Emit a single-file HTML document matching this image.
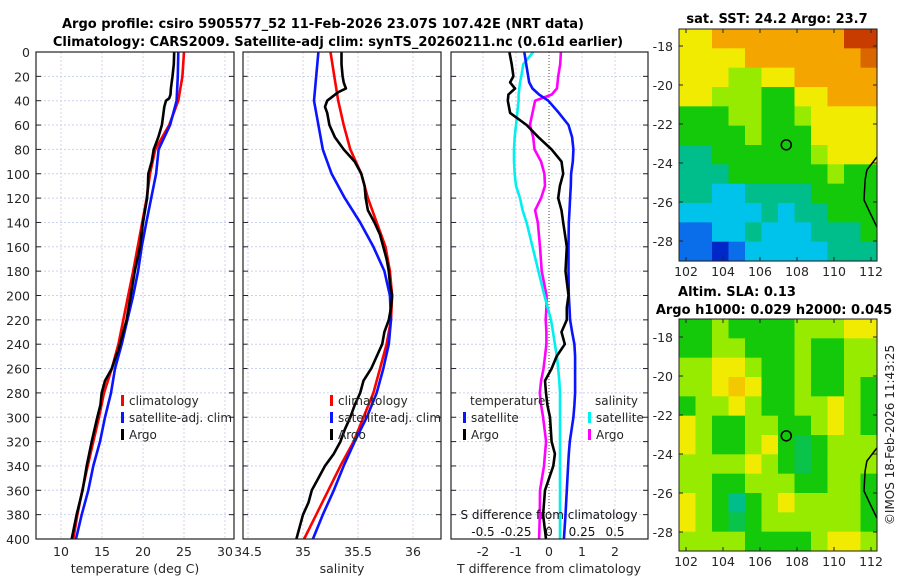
<!DOCTYPE html>
<html><head><meta charset="utf-8"><style>
html,body{margin:0;padding:0;background:#fff;}
svg{display:block;font-family:"DejaVu Sans","Liberation Sans",sans-serif;}
</style></head><body>
<svg id="fig" width="900" height="580" viewBox="0 0 900 580" xmlns="http://www.w3.org/2000/svg">
<text x="323" y="28" text-anchor="middle" font-weight="bold" font-size="13">Argo profile: csiro 5905577_52 11-Feb-2026 23.07S 107.42E (NRT data)</text>
<text x="338" y="46" text-anchor="middle" font-weight="bold" font-size="13">Climatology: CARS2009. Satellite-adj clim: synTS_20260211.nc (0.61d earlier)</text>
<text x="777" y="23" text-anchor="middle" font-weight="bold" font-size="13">sat. SST: 24.2 Argo: 23.7</text>
<text x="737" y="296" text-anchor="middle" font-weight="bold" font-size="13">Altim. SLA: 0.13</text>
<text x="774" y="314" text-anchor="middle" font-weight="bold" font-size="13">Argo h1000: 0.029 h2000: 0.045</text>
<text transform="translate(894,435) rotate(-90)" text-anchor="middle" font-size="12" fill="#222">©IMOS 18-Feb-2026 11:43:25</text>
<g id="g"></g>
</svg>
<script>
// ---------- data ----------
const depthGrid = [0,20,40,60,80,100,120,140,160,180,200,220,240,260,280,300,320,340,360,380,400];
const tempClim = [25.0,24.8,24.3,23.2,21.5,20.85,20.45,19.9,19.35,18.8,18.2,17.6,17.0,16.2,15.24,14.63,13.94,13.25,12.6,12.0,11.5];
const tempSat = [24.3,24.25,24.1,23.3,21.9,21.6,21.0,20.4,19.84,19.4,18.8,18.1,17.4,16.59,16.1,15.37,14.76,13.94,13.33,12.52,11.83];
const argoDepth = [0,10,20,30,35,38,40,45,50,60,70,80,90,100,110,120,140,160,180,200,220,230,240,245,250,260,270,280,290,300,320,340,360,380,400];
const tempArgo = [23.8,23.75,23.6,23.4,23.35,23.2,22.8,22.6,22.5,22.3,21.87,21.3,21.06,20.65,20.6,20.5,20.0,19.63,19.0,18.5,18.0,17.6,17.2,17.0,16.7,16.2,15.37,14.96,14.8,14.43,13.74,13.13,12.64,11.9,11.3];
const salClim = [35.25,35.285,35.32,35.37,35.43,35.53,35.59,35.67,35.75,35.79,35.81,35.80,35.76,35.70,35.64,35.55,35.46,35.34,35.23,35.12,35.01];
const salSat = [35.14,35.12,35.10,35.14,35.18,35.26,35.38,35.52,35.64,35.74,35.79,35.80,35.78,35.73,35.67,35.58,35.47,35.37,35.28,35.18,35.09];
const salArgoDepth = [0,10,20,25,30,33,40,45,50,60,70,80,90,100,110,120,130,140,150,160,170,180,190,200,210,220,230,240,250,260,270,280,290,300,310,320,330,340,350,360,370,380,390,400];
const salArgo = [35.35,35.35,35.36,35.37,35.39,35.32,35.22,35.20,35.22,35.24,35.29,35.37,35.47,35.53,35.56,35.57,35.59,35.65,35.70,35.73,35.76,35.78,35.79,35.81,35.80,35.78,35.74,35.72,35.67,35.62,35.55,35.52,35.47,35.43,35.38,35.34,35.28,35.20,35.14,35.08,35.05,35.00,34.97,34.94];
const diffDepth = [0,10,20,25,30,35,40,50,60,70,80,90,100,110,120,130,140,160,180,200,210,220,230,240,250,260,270,280,290,300,320,330,340,360,380,400];
const tDiffArgo = [-1.2,-1.13,-1.08,-1.18,-1.03,-1.23,-1.25,-1.18,-0.68,-0.32,0.08,0.38,0.43,0.33,0.28,0.38,0.43,0.54,0.5,0.59,0.54,0.54,0.38,0.48,0.23,0.08,-0.12,-0.09,-0.05,0.03,0.08,0.18,0.13,-0.12,-0.18,-0.09];
const tDiffSat = [-0.75,-0.69,-0.63,-0.6,-0.5,-0.3,-0.02,0.3,0.59,0.7,0.74,0.72,0.67,0.66,0.64,0.62,0.6,0.59,0.59,0.6,0.62,0.64,0.7,0.77,0.79,0.79,0.79,0.79,0.77,0.74,0.63,0.6,0.58,0.54,0.5,0.45];
const sDiffSat = [-0.12,-0.195,-0.21,-0.22,-0.225,-0.23,-0.23,-0.24,-0.25,-0.26,-0.265,-0.265,-0.26,-0.25,-0.22,-0.2,-0.17,-0.125,-0.08,-0.035,-0.01,0.015,0.03,0.045,0.06,0.07,0.078,0.083,0.083,0.083,0.083,0.083,0.083,0.083,0.083,0.083];
const sDiffArgo = [0.09,0.085,0.07,0.065,0.06,0.02,-0.105,-0.125,-0.145,-0.12,-0.11,-0.06,-0.035,-0.03,-0.06,-0.105,-0.085,-0.068,-0.055,-0.018,-0.02,-0.025,-0.02,-0.02,-0.03,-0.042,-0.06,-0.07,-0.06,-0.045,-0.022,-0.03,-0.038,-0.068,-0.07,-0.075];
const depthTicks = [0,20,40,60,80,100,120,140,160,180,200,220,240,260,280,300,320,340,360,380,400];
const tempTicks = [10,15,20,25,30];
const salTicks = [34.5,35,35.5,36];
const tDiffTicks = [-2,-1,0,1,2];
const sDiffTicks = [-0.5,-0.25,0,0.25,0.5];
const sDiffTickLabels = ["-0.5","-0.25","0","0.25","0.5"];
const lonTicks = [102,104,106,108,110,112];
const latTicks = [-18,-20,-22,-24,-26,-28];
const sstGrid = [
[6,6,7,7,7,7,7,7,7,7,8,8],
[6,6,6,6,7,7,7,7,7,7,7,7.6],
[6,6,6,5,5,6,6,7,7,7,7,7],
[6,6,5,5,5,4,4,6,6,7,7,7],
[4,4,4,5,5,4,4,5,6,6,6,6],
[4,4,4,4,5,4,4,4,6,6,6,6],
[3,3,4,4,4,4,4,4,5,6,6,6],
[3,3,3,4,4,4,4,4,4,5,4,4],
[3,3,2,2,3,3,3,3,4,4,4,4],
[2,2,2,2,2,3,2,3,3,4,4,4],
[1,1,2,2,3,2,2,2,3,3,3,4],
[1,1,0,1,2,2,2,2,2,3,3,3]];
const slaGrid = [
[4,4,5,4,4,4,4,5,5,5,6,6],
[4,4,5,5,4,4,4,5,4,4,5,5],
[5,5,6,6,5,4,4,5,4,4,5,5],
[5,5,6,6.5,6,4,4,5,4,4,5,4],
[4,5,5,6,5,4,4,5,5,6,5,4],
[6,5,4,4,5,5,4,4,5,6,5,4],
[6,5,4,4,5,6,4,3.5,4,5,5,5],
[5,5,5,5,6,5,4,3.5,4,5,5,5],
[5,5,4,4,5,5,5,4,4,5,5,4],
[6,5,4,3,4,5,6,5,5,5,5,4],
[6,5,4,3.5,4,5,5,5,5,5,5,4],
[5,5,5,5,4,4,4,4,5,6,6,5]];
const coastLon = [112.32,111.78,111.68,111.62,111.95,112.32];
const coastLat = [-23.69,-24.36,-24.87,-25.9,-26.56,-27.28];
const argoLon = 107.42, argoLat = -23.07;

// ---------- helpers ----------
const NS="http://www.w3.org/2000/svg";
const G=document.getElementById('g');
function mk(tag,attrs,parent){const e=document.createElementNS(NS,tag);for(const k in attrs)e.setAttribute(k,attrs[k]);(parent||G).appendChild(e);return e;}
const py=d=>52+d*1.2175;
const pxT=t=>61+(t-10)*8.2;
const pxS=s=>248+(s-34.5)*110;
const pxD=t=>549+t*33;
const pxSD=s=>549+s*132;
const mlon1=(lon)=>686+(lon-102)*18.5;
const mlat=(lat,y18)=>y18+(-18-lat)*19.5;

function frame(name,x0,x1,gridXs,showY){
  for(const d of depthTicks){
    const l=mk('line',{x1:x0,x2:x1,y1:py(d),y2:py(d),stroke:'#c9d2ef','stroke-width':1,'stroke-dasharray':'2,2'});
    
    
    const t1=mk('line',{x1:x0,x2:x0+5,y1:py(d),y2:py(d),stroke:'#222'});
    
    
    const t2=mk('line',{x1:x1-5,x2:x1,y1:py(d),y2:py(d),stroke:'#222'});
    
    
    if(showY){const tx=mk('text',{x:x0-6,y:py(d)+5,'text-anchor':'end','font-size':12.5,fill:'#262626'});tx.textContent=d;
      
      }
  }
  for(const gx of gridXs){
    const l=mk('line',{x1:gx,x2:gx,y1:52,y2:539,stroke:'#d9cfe6','stroke-width':1,'stroke-dasharray':'2,2'});
    
    
  }
}
function border(name,x0,x1){
  const r=mk('rect',{x:x0,y:52,width:x1-x0,height:487,fill:'none',stroke:'#222','stroke-width':1.2});
  
  
}
function line(name,xs,ds,fx,color,w){
  const pts=xs.map((v,i)=>fx(v).toFixed(1)+','+py(ds[i]).toFixed(1)).join(' ');
  const p=mk('polyline',{points:pts,fill:'none',stroke:color,'stroke-width':w||2.6,'stroke-linejoin':'round'});
  
  
}
function txt(name,s,x,y,anchor,size,color){
  const t=mk('text',{x:x,y:y,'text-anchor':anchor||'start','font-size':size||12,fill:color||'#262626'});t.textContent=s;
  
  
  return t;
}
function legMark(name,x,y,color){
  const r=mk('rect',{x:x,y:y-10,width:3,height:11,fill:color});
  
  
}

// ---------- panel 1 temperature ----------
frame('temp-panel',36,234,tempTicks.map(pxT),true);
line('temp-climatology-line',tempClim,depthGrid,pxT,'#ff0000');
line('temp-satellite-line',tempSat,depthGrid,pxT,'#0a14ff');
line('temp-argo-line',tempArgo,argoDepth,pxT,'#000');
border('temp-panel',36,234);
tempTicks.forEach(t=>txt('temp-tick-label',String(t),pxT(t),556,'middle',12.5));
txt('temp-x-axis-title','temperature (deg C)',135,573,'middle',12.5);
legMark('temp-legend-clim-marker',121,405,'#ff0000');txt('temp-legend-clim','climatology',129,405);
legMark('temp-legend-sat-marker',121,422,'#0a14ff');txt('temp-legend-sat','satellite-adj. clim',129,422);
legMark('temp-legend-argo-marker',121,439,'#000');txt('temp-legend-argo','Argo',129,439);

// ---------- panel 2 salinity ----------
frame('sal-panel',243,441,salTicks.map(pxS),false);
line('sal-climatology-line',salClim,depthGrid,pxS,'#ff0000');
line('sal-satellite-line',salSat,depthGrid,pxS,'#0a14ff');
line('sal-argo-line',salArgo,salArgoDepth,pxS,'#000');
border('sal-panel',243,441);
salTicks.forEach(s=>txt('sal-tick-label',String(s),pxS(s),556,'middle',12.5));
txt('sal-x-axis-title','salinity',342,573,'middle',12.5);
legMark('sal-legend-clim-marker',330,405,'#ff0000');txt('sal-legend-clim','climatology',338,405);
legMark('sal-legend-sat-marker',330,422,'#0a14ff');txt('sal-legend-sat','satellite-adj. clim',338,422);
legMark('sal-legend-argo-marker',330,439,'#000');txt('sal-legend-argo','Argo',338,439);

// ---------- panel 3 differences ----------
frame('diff-panel',451,648,tDiffTicks.filter(t=>t!==0).map(pxD),false);
{const z=mk('line',{x1:549,x2:549,y1:52,y2:539,stroke:'#5a4a2a','stroke-width':1,'stroke-dasharray':'1,2'});

}
line('sdiff-argo-line',sDiffArgo,diffDepth,pxSD,'#ff00ff');
line('sdiff-satellite-line',sDiffSat,diffDepth,pxSD,'#00f0f0');
line('tdiff-satellite-line',tDiffSat,diffDepth,pxD,'#0a14ff');
line('tdiff-argo-line',tDiffArgo,diffDepth,pxD,'#000');
border('diff-panel',451,648);
tDiffTicks.forEach(t=>txt('tdiff-tick-label',String(t),pxD(t),556,'middle',12.5));
txt('tdiff-x-axis-title','T difference from climatology',549,573,'middle',12.5);
sDiffTicks.forEach((s,i)=>txt('sdiff-tick-label',sDiffTickLabels[i],pxSD(s),536,'middle',12,'#111'));
txt('sdiff-axis-title','S difference from climatology',549,519,'middle',12,'#111');
txt('diff-legend-temp-heading','temperature',470,405);
legMark('diff-legend-tsat-marker',463,422,'#0a14ff');txt('diff-legend-tsat','satellite',471,422);
legMark('diff-legend-targo-marker',463,439,'#000');txt('diff-legend-targo','Argo',471,439);
txt('diff-legend-sal-heading','salinity',595,405);
legMark('diff-legend-ssat-marker',588,422,'#00f0f0');txt('diff-legend-ssat','satellite',596,422);
legMark('diff-legend-sargo-marker',588,439,'#ff00ff');txt('diff-legend-sargo','Argo',596,439);

// ---------- maps ----------
const cmap=[[0,40,200],[10,110,235],[0,195,235],[0,190,140],[20,200,10],[150,235,0],[240,235,0],[245,165,0],[200,60,0]];
function col(v){const i=Math.min(7,Math.floor(v)),f=v-i;const a=cmap[i],b=cmap[i+1];
  return 'rgb('+a.map((c,k)=>Math.round(c+(b[k]-c)*f)).join(',')+')';}
function map(name,grid,yTop,yBot,y18){
  const x0=679,x1=877,nr=grid.length,nc=grid[0].length;
  const cw=(x1-x0)/nc,ch=(yBot-yTop)/nr;
  grid.forEach((row,r)=>row.forEach((v,c)=>{
    const cell=mk('rect',{x:(x0+c*cw).toFixed(2),y:(yTop+r*ch).toFixed(2),width:(cw+0.6).toFixed(2),height:(ch+0.6).toFixed(2),fill:col(v)});
    
    
  }));
  const cp=coastLon.map((lo,i)=>mlon1(lo).toFixed(1)+','+mlat(coastLat[i],y18).toFixed(1)).join(' ');
  const co=mk('polyline',{points:cp,fill:'none',stroke:'#000','stroke-width':1.5});
  
  
  const m=mk('circle',{cx:mlon1(argoLon),cy:mlat(argoLat,y18),r:5,fill:'none',stroke:'#000','stroke-width':1.5});
  
  
  const fr=mk('rect',{x:x0,y:yTop,width:x1-x0,height:yBot-yTop,fill:'none',stroke:'#222','stroke-width':1});
  
  
  latTicks.forEach(la=>{const y=mlat(la,y18);
    mk('line',{x1:x0,x2:x0+4,y1:y,y2:y,stroke:'#222'});
    mk('line',{x1:x1-4,x2:x1,y1:y,y2:y,stroke:'#222'});
    txt(name+'-lat-label',String(la),x0-6,y+5,'end',12.5);});
  lonTicks.forEach(lo=>{const x=mlon1(lo);
    mk('line',{x1:x,x2:x,y1:yBot-4,y2:yBot,stroke:'#222'});
    mk('line',{x1:x,x2:x,y1:yTop,y2:yTop+4,stroke:'#222'});
    txt(name+'-lon-label',String(lo),x,yBot+15,'middle',12.5);});
}
map('sst-map',sstGrid,29,261,46);
map('sla-map',slaGrid,319,551,337);
</script>
</body></html>
